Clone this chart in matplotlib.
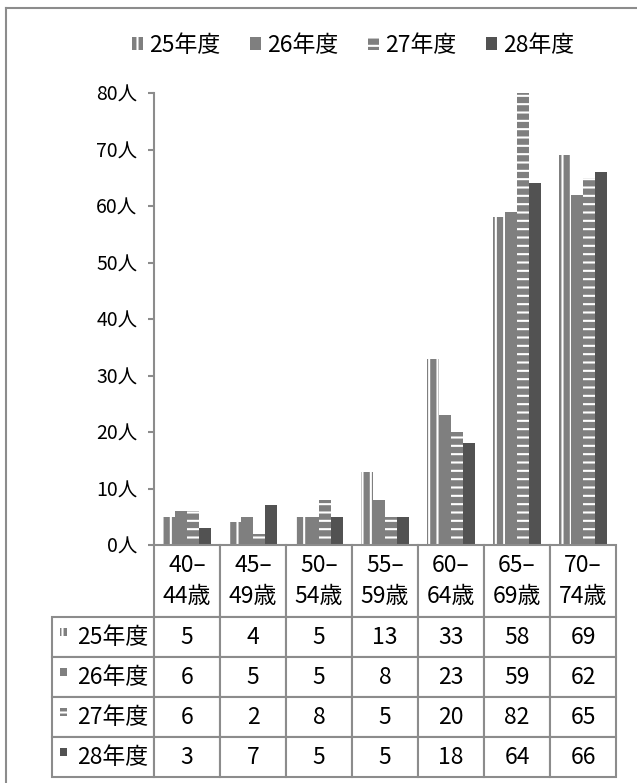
import numpy as np
import matplotlib
matplotlib.use("Agg")
import matplotlib.pyplot as plt
from matplotlib.patches import Patch, Rectangle
from matplotlib.lines import Line2D

plt.rcParams['font.family'] = ['Noto Sans CJK JP', 'DejaVu Sans']
plt.rcParams['hatch.linewidth'] = 1.5

# data
ages = ['40–\n44歳', '45–\n49歳', '50–\n54歳', '55–\n59歳', '60–\n64歳', '65–\n69歳', '70–\n74歳']
years = ['25年度', '26年度', '27年度', '28年度']
v25 = [5, 4, 5, 13, 33, 58, 69]
v26 = [6, 5, 5, 8, 23, 59, 62]
v27 = [6, 2, 8, 5, 20, 82, 65]
v28 = [3, 7, 5, 5, 18, 64, 66]
series = [v25, v26, v27, v28]
yticks = [0, 10, 20, 30, 40, 50, 60, 70, 80]

# styles
face = ['#7f7f7f', '#7f7f7f', '#7f7f7f', '#525252']
hatches = ['||', None, '--', None]
grid_c = '#8c8c8c'
fs = 16.5

W, H = 637, 783
fig = plt.figure(figsize=(W / 100, H / 100), dpi=100)

# chart axes (pixel layout of reference)
ax = fig.add_axes([154 / W, (H - 545) / H, (616 - 154) / W, (545 - 93) / H])
x = np.arange(len(ages)) + 0.5
bw = 0.182
for k, vals in enumerate(series):
    ax.bar(x + (k - 1.5) * bw, vals, width=bw, color=face[k],
           edgecolor='white', linewidth=0, hatch=hatches[k])
ax.set_xlim(0, len(ages))
ax.set_ylim(0, 80)
ax.set_yticks(yticks)
ax.set_yticklabels([f'{t}人' for t in yticks], fontsize=14)
ax.set_xticks([])
ax.tick_params(axis='y', direction='out', length=4, width=1.5, color=grid_c, pad=8)
for s in ['top', 'right', 'bottom']:
    ax.spines[s].set_visible(False)
ax.spines['left'].set_color(grid_c)
ax.spines['left'].set_linewidth(1.5)

# legend
handles = [Patch(facecolor=face[k], edgecolor='white', linewidth=0, hatch=hatches[k])
           for k in range(4)]
fig.legend(handles, years, loc='center', bbox_to_anchor=(353 / W, 1 - 45 / H),
           ncol=4, frameon=False, fontsize=fs, handlelength=0.48, handleheight=0.5,
           handletextpad=0.26, columnspacing=1.3)

# data table below
tax = fig.add_axes([52 / W, (H - 777) / H, (616 - 52) / W, (777 - 545) / H])
tax.axis('off')
rows = [[''] + ages]
for k, vals in enumerate(series):
    rows.append([''] + [str(v) for v in vals])
tbl = tax.table(cellText=rows, bbox=[0, 0, 1, 1], cellLoc='center')
tbl.auto_set_font_size(False)
for (r, c), cell in tbl.get_celld().items():
    cell.set_height(72 if r == 0 else 40)
    cell.set_width(102 if c == 0 else 66)
    cell.set_edgecolor(grid_c)
    cell.set_linewidth(1.5)
    cell.get_text().set_fontsize(fs)
    if r == 0:
        cell.get_text().set_linespacing(1.4)
    if r == 0 and c == 0:
        cell.visible_edges = ''

tax.set_xlim(0, 564)
tax.set_ylim(232, 0)
for k, name in enumerate(years):
    yc = 72 + 40 * k + 20
    tax.text(96, yc, name, ha='right', va='center', fontsize=fs)
    tax.add_patch(Rectangle((8, yc - 9), 7, 8, facecolor=face[k], edgecolor='white',
                            linewidth=0, hatch=hatches[k]))

# outer frame (left and top edges visible)
fig.add_artist(Line2D([6 / W, 6 / W], [0, 1 - 8 / H], color=grid_c, linewidth=1.5))
fig.add_artist(Line2D([6 / W, 1], [1 - 8 / H, 1 - 8 / H], color=grid_c, linewidth=1.5))

fig.savefig('out.png', dpi=100)
